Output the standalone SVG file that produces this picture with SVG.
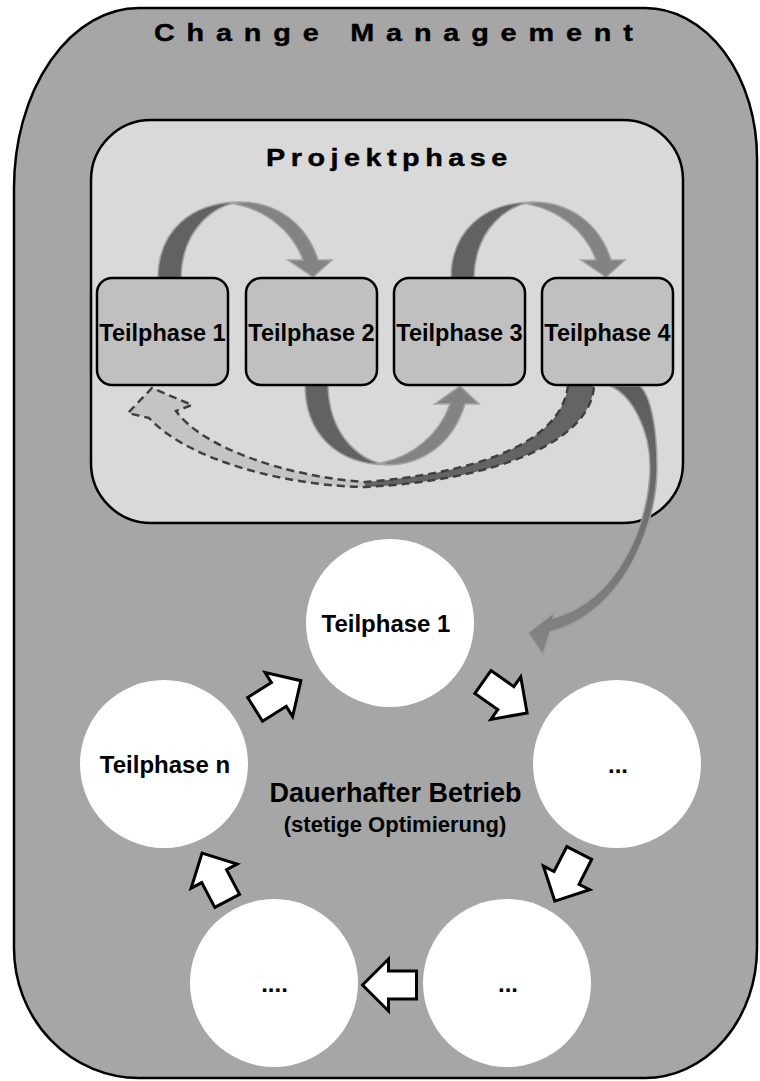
<svg xmlns="http://www.w3.org/2000/svg" xmlns:xlink="http://www.w3.org/1999/xlink" width="760" height="1081" viewBox="0 0 760 1081">
  <style>
    .lbl { font-family: "Liberation Sans", Arial, sans-serif; font-weight: bold; fill: #000; text-anchor: middle; }
    .head { font-family: "Liberation Sans", Arial, sans-serif; font-weight: bold; fill: #000; stroke: #000; stroke-width: 0.4; }
    .box { fill: #c0c0c0; stroke: #000; stroke-width: 2.5; }
    .circ { fill: #fff; }
    .blk { fill: #fff; stroke: #000; stroke-width: 3; stroke-linejoin: miter; }
    .dark { fill: #626262; stroke: #a2a2a2; stroke-width: 1.5; }
    .light { fill: #838383; stroke: #a2a2a2; stroke-width: 1.5; }
  </style>
  <defs>
    <!-- white block arrow pointing along +x, centred on the origin -->
    <path id="blkArrow" d="M-27,-14 L1,-14 L1,-26 L27,0 L1,26 L1,14 L-27,14 Z"/>
    <!-- ribbon arc arrow between neighbouring phase boxes -->
    <g id="arcArrow">
      <path class="dark" d="M158,278 C158,232 190,202 240,202 C215,205 182,228 181,278 Z"/>
      <path class="light" d="M240,202 C275,202 306,222 318,260 L332,260 L313,277 L288,260 L303,260 C292,230 265,210 235,204 Z"/>
    </g>
    <linearGradient id="longGrad" x1="0" y1="0" x2="0" y2="1">
      <stop offset="0" stop-color="#5c5c5c"/>
      <stop offset="1" stop-color="#858585"/>
    </linearGradient>
  </defs>

  <!-- outer frame -->
  <g id="change-management">
    <path d="M139,8 H645 A112,150 0 0 1 757,158 V948 A112,130 0 0 1 645,1078 H139 A125,130 0 0 1 14,948 V188 A125,180 0 0 1 139,8 Z" fill="#a6a6a6" stroke="#000" stroke-width="2.5"/>
    <!-- widened, letter-spaced heading -->
    <text class="head" transform="scale(1.2,1)" x="128.3" y="41" font-size="24" textLength="399" lengthAdjust="spacing">Change Management</text>
  </g>

  <!-- project phase container -->
  <g id="projektphase">
    <rect x="91" y="120" width="592" height="403" rx="60" ry="60" fill="#d9d9d9" stroke="#000" stroke-width="2.5"/>
    <text class="head" transform="scale(1.2,1)" x="221.7" y="166" font-size="24" textLength="201" lengthAdjust="spacing">Projektphase</text>
  </g>

  <!-- connectors -->
  <g id="connectors">
    <use xlink:href="#arcArrow"/>
    <use xlink:href="#arcArrow" transform="translate(293,0)"/>
    <use xlink:href="#arcArrow" transform="translate(147,676.9) scale(1,-1.05)"/>

    <!-- dashed return ribbon from phase 4 back to phase 1 -->
    <path d="M594,385 C592,440 500,480 365,487 L365,482 C470,474 562,445 568,385 Z" fill="#646464"/>
    <path d="M365,487 C290,486 190,462 149,418 L128,413 L152,388 L192,405 L176,411 C200,445 280,476 365,482 Z" fill="#c4c4c4"/>
    <path d="M568,385 C562,445 470,474 365,482 C280,476 200,445 176,411 L192,405 L152,388 L128,413 L149,418 C190,462 290,486 365,487 C500,480 592,440 594,385" fill="none" stroke="#404040" stroke-width="2.5" stroke-dasharray="8,5"/>

    <!-- transition ribbon into continuous operation -->
    <path d="M610,386 C632,395 650,430 650,467 C650,520 620,600 553,618 L555,612 L528,633 L543,655 L550,632 C620,615 657,530 657,467 C657,425 650,395 640,386 Z" fill="url(#longGrad)" stroke="#a0a0a0" stroke-width="1.5"/>

    <!-- cycle arrows -->
    <use xlink:href="#blkArrow" class="blk" transform="translate(278,695) rotate(-32)"/>
    <use xlink:href="#blkArrow" class="blk" transform="translate(505,697.5) rotate(35)"/>
    <use xlink:href="#blkArrow" class="blk" transform="translate(567,877) rotate(117)"/>
    <use xlink:href="#blkArrow" class="blk" transform="translate(389.5,985) rotate(180)"/>
    <use xlink:href="#blkArrow" class="blk" transform="translate(214.6,877) rotate(-117.7)"/>
  </g>

  <!-- phase boxes -->
  <g id="box-teilphase-1">
    <rect class="box" x="97" y="278" width="131" height="107" rx="15"/>
    <text class="lbl" x="162.5" y="341" font-size="23.5">Teilphase 1</text>
  </g>
  <g id="box-teilphase-2">
    <rect class="box" x="246" y="278" width="131" height="107" rx="15"/>
    <text class="lbl" x="311.5" y="341" font-size="23.5">Teilphase 2</text>
  </g>
  <g id="box-teilphase-3">
    <rect class="box" x="394" y="278" width="131" height="107" rx="15"/>
    <text class="lbl" x="459.5" y="341" font-size="23.5">Teilphase 3</text>
  </g>
  <g id="box-teilphase-4">
    <rect class="box" x="542" y="278" width="131" height="107" rx="15"/>
    <text class="lbl" x="607.5" y="341" font-size="23.5">Teilphase 4</text>
  </g>

  <!-- operation cycle -->
  <g id="circle-teilphase-1">
    <circle class="circ" cx="390" cy="623" r="84"/>
    <text class="lbl" x="386" y="632" font-size="24">Teilphase 1</text>
  </g>
  <g id="circle-right">
    <circle class="circ" cx="617" cy="764" r="84"/>
    <text class="lbl" x="618" y="773" font-size="24">...</text>
  </g>
  <g id="circle-bottom-right">
    <circle class="circ" cx="507" cy="983" r="84"/>
    <text class="lbl" x="508" y="992" font-size="24">...</text>
  </g>
  <g id="circle-bottom-left">
    <circle class="circ" cx="274" cy="983" r="84"/>
    <text class="lbl" x="274.5" y="992" font-size="24">....</text>
  </g>
  <g id="circle-teilphase-n">
    <circle class="circ" cx="164" cy="764" r="84"/>
    <text class="lbl" x="165" y="773" font-size="24">Teilphase n</text>
  </g>

  <g id="operation-label">
    <text class="lbl" x="395.5" y="802" font-size="27">Dauerhafter Betrieb</text>
    <text class="lbl" x="395" y="832" font-size="22">(stetige Optimierung)</text>
  </g>
</svg>
